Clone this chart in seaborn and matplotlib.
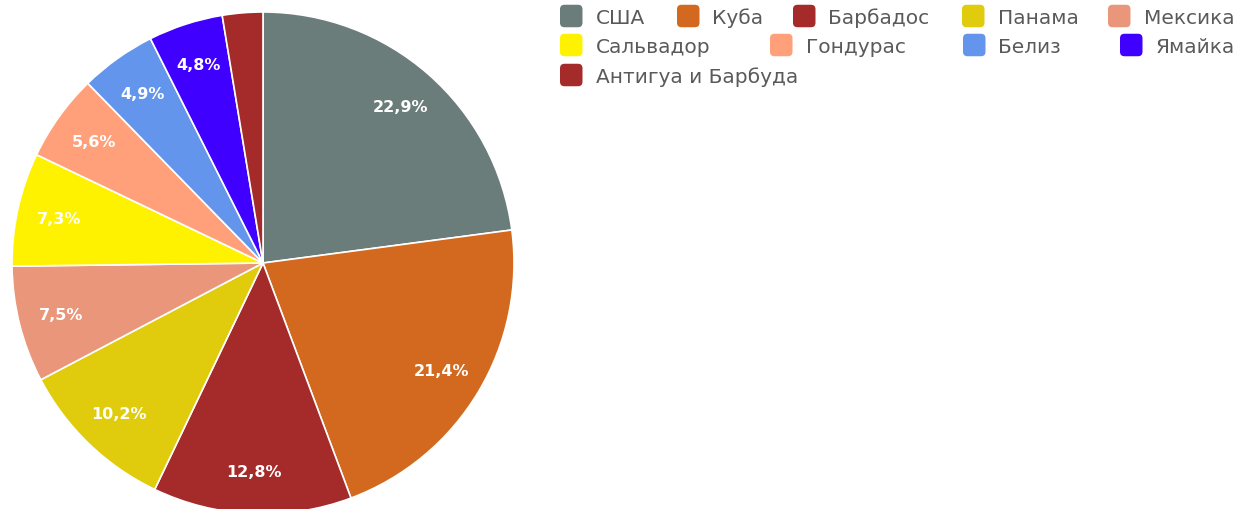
import matplotlib
matplotlib.use("Agg")
import matplotlib.pyplot as plt
import seaborn as sns
from matplotlib.patches import FancyBboxPatch
from matplotlib.legend_handler import HandlerPatch

countries = ["США", "Куба", "Барбадос", "Панама", "Мексика",
             "Сальвадор", "Гондурас", "Белиз", "Ямайка", "Антигуа и Барбуда"]
shares = [22.9, 21.4, 12.8, 10.2, 7.5, 7.3, 5.6, 4.9, 4.8, 2.6]
colors = ["#6b7d7a", "#d2691e", "#a52a2a", "#e0cc0c", "#e9967a",
          "#fff200", "#ffa07a", "#6495ed", "#4000ff", "#a52a2a"]

sns.set_theme(style="white")
plt.rcParams["font.family"] = ["DejaVu Sans"]

W, H = 1241, 510
fig = plt.figure(figsize=(W / 100, H / 100), dpi=100)
cx, cy, r = 263, 264, 251
ax = fig.add_axes([(cx - r) / W, (H - cy - r) / H, 2 * r / W, 2 * r / H])


def fmt(p):
    return ("%.1f%%" % p).replace(".", ",") if p >= 4 else ""


wedges, texts, autotexts = ax.pie(
    shares, colors=colors, startangle=90, counterclock=False,
    autopct=fmt, pctdistance=0.83,
    wedgeprops=dict(edgecolor="white", linewidth=1.2),
    textprops=dict(color="white", fontsize=11.5, fontweight="bold"))
ax.set_xlim(-1, 1)
ax.set_ylim(-1, 1)
ax.set_aspect("equal")

MARK = 22.5  # marker size in px


def rounded(legend, orig_handle, xdescent, ydescent, width, height, fontsize):
    s = fontsize * MARK / fs_px
    return FancyBboxPatch((-xdescent + (width - s) / 2, -ydescent + (height - s) / 2), s, s,
                          boxstyle="round,pad=0,rounding_size=%f" % (s * 0.2))


fs = 14.5
fs_px = fs * 100 / 72
hh = (MARK / fs_px - 0.245) / 0.65
# legend layout (pixel positions of each marker's left edge and row centre)
leg_x = [560, 677, 793, 962, 1108, 560, 770, 963, 1120, 560]
leg_y = [17, 17, 17, 17, 17, 46, 46, 46, 46, 76]
for w, name, lx, ly in zip(wedges, countries, leg_x, leg_y):
    lg = fig.legend(handles=[w], labels=[name], loc="center left",
                    bbox_to_anchor=(lx / W, 1 - ly / H),
                    frameon=False, borderpad=0, borderaxespad=0,
                    fontsize=fs, handlelength=MARK / fs_px, handleheight=hh,
                    handletextpad=13 / fs_px, labelcolor="#5a5a5a",
                    handler_map={w: HandlerPatch(patch_func=rounded)})
    for h in lg.legend_handles:
        h.set_edgecolor("none")

fig.savefig("out.png", dpi=100)
